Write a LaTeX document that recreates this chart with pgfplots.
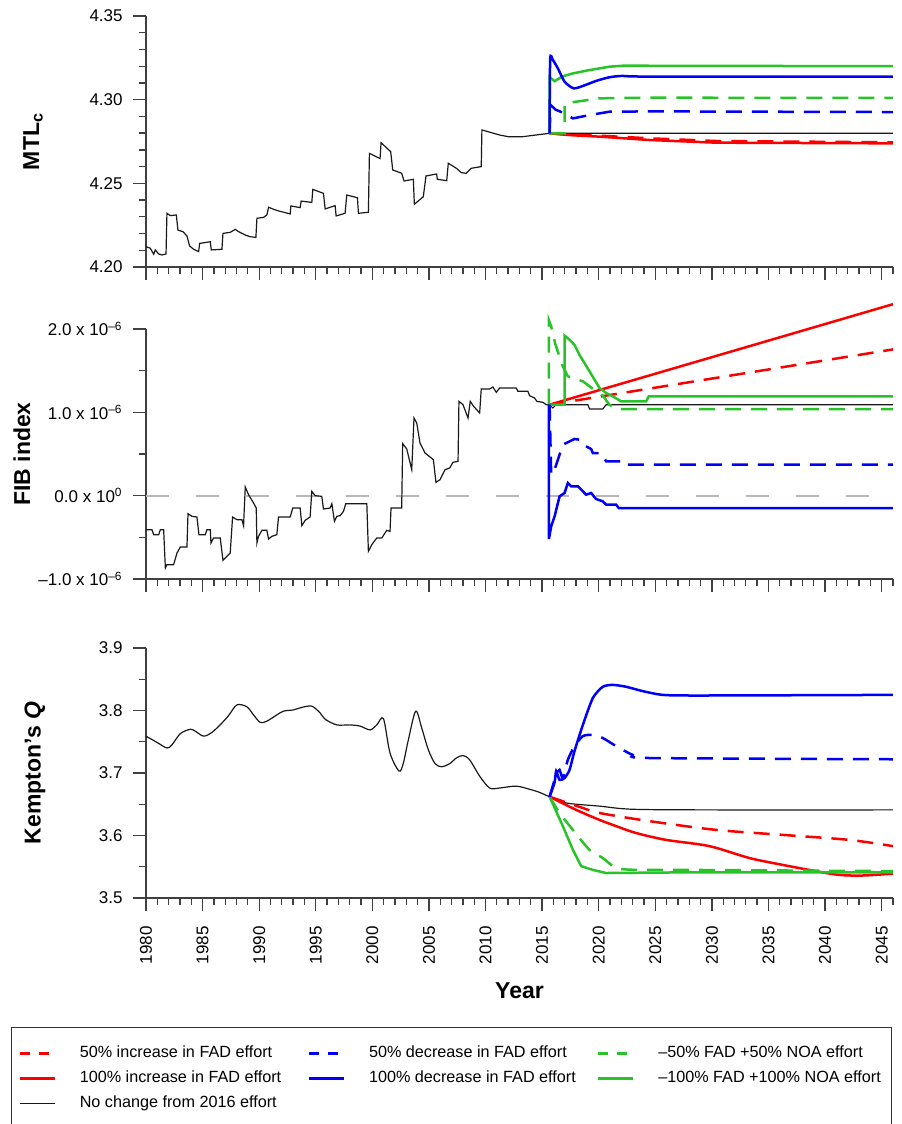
\documentclass[border=0pt]{standalone}
\usepackage{fontspec}
\setmainfont{Liberation Sans}
\usepackage{pgfplots}
\pgfplotsset{compat=1.18}

\definecolor{fred}{RGB}{250,0,0}
\definecolor{fblue}{RGB}{0,0,250}
\definecolor{fgreen}{RGB}{40,195,40}

% 1 px of the reference = 0.5pt
\pgfplotsset{
  panel/.style={
    scale only axis, width=373.5pt, height=125pt,
    xmin=1980, xmax=2046,
    axis x line*=bottom, axis y line*=left,
    axis line style={black!75, line width=0.65pt},
    every tick/.style={black!75, line width=0.65pt},
    tick align=outside,
    major tick length=6.5pt, minor tick length=3.3pt,
    xtick={1980,1985,...,2045},
    minor xtick={1980,...,2046},
    xticklabels={},
    tick label style={font=\fontsize{8.5}{10}\selectfont},
    yticklabel style={inner sep=0pt, xshift=-5pt},
    ylabel style={font=\fontsize{11.5}{13}\selectfont\bfseries, anchor=center},
    /pgf/number format/assume math mode=true,
    clip=false,
  },
  hist/.style={black!90, line width=0.6pt, forget plot},
  rsol/.style={fred, line width=1.25pt, forget plot},
  rdash/.style={fred, line width=1.25pt, dash pattern=on 8pt off 5pt, forget plot},
  bsol/.style={fblue, line width=1.25pt, forget plot},
  bdash/.style={fblue, line width=1.25pt, dash pattern=on 8pt off 5pt, forget plot},
  gsol/.style={fgreen, line width=1.25pt, forget plot},
  gdash/.style={fgreen, line width=1.25pt, dash pattern=on 8pt off 5pt, forget plot},
}

\begin{document}
\begin{tikzpicture}

% ---------------- MTLc ----------------
\begin{axis}[panel, height=125.5pt,
  at={(0pt,-133.5pt)}, anchor=south west,
  ymin=4.20, ymax=4.35,
  ytick={4.20,4.25,4.30,4.35},
  yticklabels={4.20,4.25,4.30,4.35},
  minor ytick={4.21,4.22,4.23,4.24,4.26,4.27,4.28,4.29,4.31,4.32,4.33,4.34},
  ylabel={MTL\textsubscript{c}},
  ylabel style={at={(axis description cs:-0.1513,0.5)}},
]
\addplot[hist] coordinates {
 (1980.00,4.2122) (1980.38,4.2112) (1980.68,4.2076) (1980.82,4.2102) (1981.12,4.2078)
 (1981.41,4.2072) (1981.77,4.2078) (1981.85,4.2321) (1982.15,4.2307) (1982.68,4.2311)
 (1982.82,4.2221) (1983.27,4.2211) (1983.62,4.2185) (1983.85,4.2126) (1984.21,4.2106)
 (1984.65,4.2092) (1984.74,4.2141) (1985.68,4.2151) (1985.77,4.2102) (1986.71,4.2106)
 (1986.80,4.2201) (1987.44,4.2207) (1987.88,4.2225) (1988.18,4.2211) (1988.77,4.2191)
 (1989.21,4.2181) (1989.71,4.2177) (1989.80,4.2291) (1990.39,4.2297) (1990.68,4.2311)
 (1990.83,4.2357) (1991.27,4.2345) (1991.71,4.2335) (1992.30,4.2325) (1992.74,4.2317)
 (1992.80,4.2365) (1993.62,4.2355) (1993.71,4.2394) (1994.65,4.2386) (1994.74,4.2464)
 (1995.68,4.2440) (1995.83,4.2347) (1996.71,4.2367) (1996.80,4.2305) (1997.59,4.2321)
 (1997.74,4.2430) (1998.68,4.2414) (1998.77,4.2321) (1999.65,4.2327) (1999.74,4.2679)
 (2000.68,4.2648) (2000.77,4.2743) (2001.62,4.2689) (2001.80,4.2580) (2002.59,4.2560)
 (2002.80,4.2514) (2003.62,4.2524) (2003.71,4.2375) (2004.50,4.2420) (2004.74,4.2544)
 (2005.68,4.2556) (2005.74,4.2524) (2006.57,4.2516) (2006.71,4.2620) (2007.42,4.2590)
 (2007.86,4.2564) (2008.30,4.2560) (2008.74,4.2590) (2009.62,4.2600) (2009.68,4.2819)
 (2010.51,4.2803) (2011.24,4.2789) (2011.98,4.2779) (2013.30,4.2779) (2014.48,4.2789)
 (2015.66,4.2799) (2046.00,4.2799)
};
\addplot[rdash] coordinates {
 (2015.66,4.2799) (2017.5,4.2790) (2020.07,4.2785) (2024.48,4.2769) (2030.37,4.2753) (2046.00,4.2745)
};
\addplot[rsol] coordinates {
 (2015.66,4.2799) (2017.5,4.2788) (2020.07,4.2779) (2024.48,4.2759) (2030.37,4.2743) (2046.00,4.2739)
};
\addplot[gdash] coordinates {
 (2015.66,4.2799) (2016.98,4.2799) (2016.98,4.2970) (2017.72,4.2985) (2020.07,4.3008) (2024.48,4.3012) (2046.00,4.3010)
};
\addplot[bdash] coordinates {
 (2015.66,4.2799) (2015.75,4.2968) (2016.20,4.2940) (2016.98,4.2918) (2017.72,4.2888)
 (2019.19,4.2908) (2020.95,4.2928) (2024.48,4.2930) (2046.00,4.2926)
};
\addplot[gsol] coordinates {
 (2015.66,4.2799) (2015.66,4.3134) (2016.10,4.3111) (2016.83,4.3140) (2017.72,4.3157)
 (2019.19,4.3177) (2020.95,4.3197) (2022.13,4.3203) (2046.00,4.3200)
};
\addplot[bsol, smooth, tension=0.4] coordinates {
 (2015.66,4.2799) (2015.71,4.3241) (2015.95,4.3237) (2016.39,4.3187) (2016.98,4.3108)
 (2017.77,4.3068) (2018.60,4.3082) (2019.77,4.3112) (2020.95,4.3134) (2022.13,4.3142)
 (2024.48,4.3138) (2046.00,4.3138)
};
\end{axis}

% ---------------- FIB index (values in units of 1e-6) ----------------
\begin{axis}[panel,
  at={(0pt,-289.5pt)}, anchor=south west,
  ymin=-1, ymax=2,
  ytick={-1,0,1,2},
  yticklabels={\textendash1.0 x 10\textsuperscript{\textendash6},
               0.0 x 10\textsuperscript{0},
               1.0 x 10\textsuperscript{\textendash6},
               2.0 x 10\textsuperscript{\textendash6}},
  minor ytick={-0.5,0.5,1.5},
  ylabel={FIB index},
  ylabel style={at={(axis description cs:-0.166,0.5)}},
]
\addplot[black!28, line width=1.1pt, dash pattern=on 11.5pt off 13.5pt, forget plot]
  coordinates {(1980,0) (2046,0)};
\addplot[hist] coordinates {
 (1980.00,-0.408) (1980.53,-0.408) (1980.68,-0.468) (1981.12,-0.468) (1981.27,-0.408)
 (1981.56,-0.408) (1981.71,-0.868) (1981.85,-0.828) (1982.44,-0.828) (1982.74,-0.688)
 (1983.03,-0.616) (1983.62,-0.616) (1983.71,-0.216) (1984.06,-0.248) (1984.50,-0.256)
 (1984.68,-0.468) (1985.24,-0.468) (1985.38,-0.408) (1985.68,-0.408) (1985.74,-0.568)
 (1985.97,-0.508) (1986.56,-0.508) (1986.80,-0.776) (1987.15,-0.728) (1987.44,-0.688)
 (1987.65,-0.256) (1988.03,-0.288) (1988.47,-0.288) (1988.62,-0.360) (1988.77,0.104)
 (1989.06,0.012) (1989.50,-0.088) (1989.74,-0.148) (1989.80,-0.568) (1989.94,-0.488)
 (1990.24,-0.416) (1990.68,-0.416) (1990.83,-0.520) (1991.12,-0.488) (1991.56,-0.468)
 (1991.71,-0.256) (1992.74,-0.256) (1992.97,-0.148) (1993.62,-0.148) (1993.77,-0.360)
 (1994.06,-0.296) (1994.50,-0.256) (1994.65,0.052) (1994.95,0.000) (1995.53,-0.008)
 (1995.68,-0.160) (1996.27,-0.148) (1996.42,-0.096) (1996.65,-0.308) (1996.86,-0.248)
 (1997.15,-0.240) (1997.45,-0.188) (1997.65,-0.096) (1999.51,-0.096) (1999.65,-0.668)
 (1999.95,-0.588) (2000.39,-0.508) (2000.83,-0.508) (2001.27,-0.416) (2001.56,-0.428)
 (2001.65,-0.148) (2002.59,-0.148) (2002.68,0.624) (2003.04,0.560) (2003.48,0.312)
 (2003.68,0.932) (2003.92,0.872) (2004.21,0.632) (2004.51,0.552) (2004.65,0.512)
 (2005.39,0.432) (2005.62,0.160) (2005.98,0.192) (2006.42,0.312) (2006.83,0.332)
 (2007.12,0.400) (2007.57,0.412) (2007.65,1.132) (2008.01,1.092) (2008.45,0.932)
 (2008.65,1.132) (2008.95,1.072) (2009.48,0.992) (2009.62,1.280) (2010.36,1.280)
 (2010.65,1.304) (2010.95,1.240) (2011.24,1.292) (2012.71,1.292) (2012.86,1.252)
 (2013.74,1.252) (2013.89,1.200) (2014.33,1.172) (2014.54,1.132) (2015.07,1.120)
 (2015.36,1.092) (2015.66,1.092) (2015.80,1.072) (2015.95,1.052) (2016.24,1.092)
 (2019.04,1.092) (2019.19,1.040) (2020.36,1.040) (2020.66,1.092) (2046.00,1.092)
};
\addplot[rsol] coordinates {(2015.66,1.092) (2046.00,2.298)};
\addplot[rdash] coordinates {(2015.66,1.092) (2046.00,1.755)};
\addplot[gdash] coordinates {
 (2015.60,1.092) (2015.60,2.104) (2015.80,2.032) (2016.18,1.812) (2016.83,1.552)
 (2017.27,1.432) (2018.01,1.400) (2018.60,1.372) (2019.19,1.312) (2019.77,1.252)
 (2020.36,1.200) (2020.95,1.092) (2021.54,1.040) (2046.00,1.040)
};
\addplot[gsol] coordinates {
 (2015.66,1.092) (2016.98,1.092) (2016.98,1.920) (2017.42,1.872) (2017.57,1.852)
 (2017.86,1.810) (2018.30,1.690) (2018.74,1.592) (2019.19,1.492) (2019.63,1.392)
 (2020.07,1.292) (2020.66,1.232) (2021.24,1.192) (2021.98,1.132) (2024.19,1.132)
 (2024.42,1.192) (2046.00,1.192)
};
\addplot[bdash] coordinates {
 (2015.66,1.092) (2015.80,0.252) (2016.10,0.312) (2016.83,0.612) (2017.86,0.680)
 (2018.30,0.672) (2018.60,0.612) (2019.33,0.560) (2019.48,0.512) (2020.22,0.512)
 (2020.66,0.412) (2022.42,0.412) (2022.57,0.372) (2046.00,0.372)
};
\addplot[bsol] coordinates {
 (2015.60,1.092) (2015.60,-0.520) (2015.80,-0.368) (2016.10,-0.248) (2016.54,-0.008)
 (2016.98,0.032) (2017.27,0.152) (2017.57,0.112) (2018.16,0.112) (2018.60,0.052)
 (2018.89,0.012) (2019.33,0.032) (2019.77,-0.040) (2020.36,-0.068) (2020.66,-0.108)
 (2021.54,-0.108) (2021.77,-0.148) (2046.00,-0.148)
};
\end{axis}

% ---------------- Kempton's Q ----------------
\begin{axis}[panel,
  at={(0pt,-449pt)}, anchor=south west,
  ymin=3.5, ymax=3.9,
  ytick={3.5,3.6,3.7,3.8,3.9},
  yticklabels={3.5,3.6,3.7,3.8,3.9},
  minor ytick={3.55,3.65,3.75,3.85},
  xticklabels={1980,1985,1990,1995,2000,2005,2010,2015,2020,2025,2030,2035,2040,2045},
  xticklabel style={rotate=90, anchor=east, inner sep=0pt, xshift=-7.5pt},
  ylabel={Kempton's \textit{Q}},
  ylabel style={at={(axis description cs:-0.1486,0.5)}},
  xlabel={Year},
  xlabel style={at={(axis description cs:0.5,-0.37)}, anchor=center,
                font=\fontsize{11.5}{13}\selectfont\bfseries},
  legend columns=3,
  legend image code/.code={\draw[#1] (0pt,0pt) -- (17.5pt,0pt); \path[draw=none] (0pt,0pt) -- (26pt,0pt);},
  legend style={at={(axis description cs:-0.1807,-0.516)}, anchor=north west,
    draw=black!80, line width=0.5pt, inner xsep=3.5pt, inner ysep=7pt,
    font=\fontsize{8.1}{10}\selectfont, column sep=2pt, row sep=0.5pt,
    nodes={inner sep=2pt, text height=6pt, text depth=2pt}},
  legend cell align=left,
]
\addplot[hist, smooth, tension=0.5] coordinates {
 (1980.00,3.759) (1980.97,3.749) (1981.85,3.740) (1982.29,3.745) (1983.03,3.763)
 (1983.91,3.770) (1984.35,3.767) (1985.09,3.759) (1985.83,3.765) (1986.71,3.780)
 (1987.30,3.792) (1988.03,3.809) (1988.91,3.806) (1989.50,3.793) (1990.09,3.781)
 (1990.68,3.783) (1991.56,3.793) (1992.15,3.799) (1993.03,3.801) (1993.77,3.805)
 (1994.65,3.807) (1995.39,3.796) (1995.83,3.786) (1996.86,3.777) (1998.03,3.777)
 (1998.92,3.775) (1999.80,3.769) (2000.39,3.777) (2000.98,3.787) (2001.56,3.732)
 (2002.36,3.703) (2002.74,3.716) (2003.18,3.753) (2003.83,3.799) (2004.36,3.772)
 (2004.95,3.737) (2005.54,3.715) (2006.12,3.710) (2006.83,3.715) (2007.42,3.724)
 (2008.01,3.728) (2008.60,3.721) (2009.48,3.695) (2010.36,3.676) (2011.24,3.676)
 (2012.71,3.679) (2013.89,3.674) (2014.77,3.669) (2015.66,3.662) (2017.13,3.652)
 (2020.07,3.647) (2023.01,3.642) (2030.00,3.641) (2046.00,3.641)
};
\addplot[rdash, smooth, tension=0.5] coordinates {
 (2015.66,3.662) (2018.60,3.644) (2020.07,3.636) (2024.48,3.623) (2030.37,3.609)
 (2036.25,3.601) (2042.13,3.593) (2046.00,3.583)
};
\addplot[rsol, smooth, tension=0.5] coordinates {
 (2015.66,3.662) (2018.01,3.641) (2020.07,3.625) (2021.54,3.615) (2023.30,3.604)
 (2025.96,3.593) (2029.78,3.583) (2033.31,3.564) (2036.25,3.553) (2039.19,3.543)
 (2041.25,3.537) (2043.31,3.536) (2046.00,3.539)
};
\addplot[gdash, smooth, tension=0.4] coordinates {
 (2015.66,3.662) (2016.54,3.636) (2017.72,3.609) (2019.19,3.577) (2020.36,3.564)
 (2021.54,3.548) (2023.30,3.545) (2027.42,3.545) (2046.00,3.543)
};
\addplot[gsol] coordinates {
 (2015.66,3.662) (2016.83,3.615) (2017.72,3.577) (2018.45,3.551) (2019.48,3.545)
 (2020.66,3.540) (2027.42,3.541) (2046.00,3.541)
};
\addplot[bdash, smooth, tension=0.4] coordinates {
 (2015.66,3.662) (2016.24,3.697) (2016.54,3.705) (2016.83,3.692) (2017.27,3.721)
 (2017.86,3.743) (2018.60,3.759) (2019.48,3.761) (2020.36,3.756) (2021.54,3.743)
 (2023.01,3.729) (2024.48,3.724) (2046.00,3.722)
};
\addplot[bsol, smooth, tension=0.4] coordinates {
 (2015.66,3.662) (2016.10,3.685) (2016.24,3.703) (2016.54,3.689) (2016.98,3.692)
 (2017.42,3.705) (2017.86,3.735) (2018.60,3.777) (2019.48,3.820) (2020.36,3.838)
 (2021.24,3.841) (2022.42,3.838) (2023.89,3.831) (2025.66,3.825) (2028.90,3.824)
 (2046.00,3.825)
};

\addlegendimage{fred, line width=1.25pt, dash pattern=on 5pt off 4.5pt}
\addlegendentry{\makebox[110pt][l]{50\% increase in FAD effort}}
\addlegendimage{fblue, line width=1.25pt, dash pattern=on 5pt off 4.5pt}
\addlegendentry{\makebox[110pt][l]{50\% decrease in FAD effort}}
\addlegendimage{fgreen, line width=1.25pt, dash pattern=on 5pt off 4.5pt}
\addlegendentry{\textendash50\% FAD +50\% NOA effort}
\addlegendimage{fred, line width=1.25pt}
\addlegendentry{\makebox[110pt][l]{100\% increase in FAD effort}}
\addlegendimage{fblue, line width=1.25pt}
\addlegendentry{\makebox[110pt][l]{100\% decrease in FAD effort}}
\addlegendimage{fgreen, line width=1.25pt}
\addlegendentry{\textendash100\% FAD +100\% NOA effort}
\addlegendimage{black!90, line width=0.6pt}
\addlegendentry{\makebox[110pt][l]{No change from 2016 effort}}
\end{axis}

\pgfresetboundingbox
\useasboundingbox (-73pt,0pt) rectangle (377.5pt,-562pt);
\end{tikzpicture}
\end{document}
